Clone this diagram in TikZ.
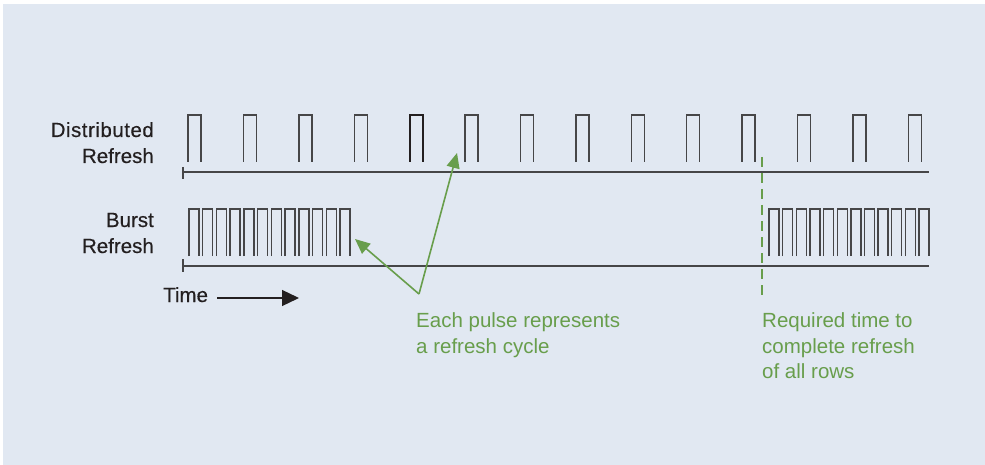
\documentclass[tikz,border=0pt]{standalone}
\usepackage{fontspec}
\setmainfont{Liberation Sans}
\newfontfamily\labelfont[FakeBold=0.35]{Liberation Sans}
\usetikzlibrary{arrows.meta}

\definecolor{panel}{RGB}{225,232,242}
\definecolor{ink}{RGB}{35,31,32}
\definecolor{trace}{RGB}{70,70,72}
\definecolor{note}{RGB}{104,158,76}

\tikzset{
  lbl/.style={inner sep=0pt, text=ink, font=\labelfont\fontsize{20.5}{26}\selectfont},
  notetext/.style={inner sep=0pt, text=note, font=\fontsize{20.5}{26}\selectfont, anchor=base west},
  pulse/.style={draw=trace, line width=1.4pt, line join=miter},
  axis/.style={draw=trace, line width=1.5pt},
  callout/.style={draw=note, line width=1.6pt, -{Triangle[length=15pt,width=13pt]}},
  marker/.style={draw=note, line width=1.4pt, dash pattern=on 10pt off 6pt},
}

\begin{document}
\begin{tikzpicture}[x=1pt,y=-1pt]
  % canvas and panel
  \useasboundingbox (0,0) rectangle (985,465);
  \fill[white] (0,0) rectangle (985,465);
  \fill[panel] (3,4) rectangle (985,465);

  % row labels
  \node[lbl, anchor=base east] (dlab1) at (154,137) {\addfontfeature{LetterSpace=2.5}Distributed};
  \node[lbl, anchor=base east] (dlab2) at (154,163) {Refresh};
  \node[lbl, anchor=base east] (blab1) at (154,227) {Burst};
  \node[lbl, anchor=base east] (blab2) at (154,253) {Refresh};

  % distributed refresh: time axis and evenly spaced pulses
  \draw[axis] (183,167) -- (183,179);
  \draw[axis] (183,172) -- (929,172);
  \foreach \k in {0,...,13} {
    \pgfmathsetmacro{\xa}{188+55.4*\k}
    \ifnum\k=4
      \draw[pulse, draw=ink, line width=1.9pt] (\xa,162) -- (\xa,115) -- ({\xa+13},115) -- ({\xa+13},162);
    \else
      \draw[pulse] (\xa,162) -- (\xa,115) -- ({\xa+13},115) -- ({\xa+13},162);
    \fi
  }

  % burst refresh: time axis and two bursts of back-to-back pulses
  \draw[axis] (183,259) -- (183,272);
  \draw[axis] (183,266) -- (929,266);
  \foreach \k in {0,...,11} {
    \pgfmathsetmacro{\xa}{189+13.73*\k}
    \draw[pulse] (\xa,256) -- (\xa,209) -- ({\xa+10},209) -- ({\xa+10},256);
    \pgfmathsetmacro{\xb}{769+13.64*\k}
    \draw[pulse] (\xb,256) -- (\xb,209) -- ({\xb+10},209) -- ({\xb+10},256);
  }

  % time direction
  \node[lbl, anchor=base west] (time) at (163,302) {Time};
  \coordinate (tstart) at (217,298);
  \coordinate (tend) at (299,298);
  \draw[draw=ink, line width=1.3pt, -{Triangle[length=17pt,width=16pt]}] (tstart) -- (tend);

  % callout: each pulse is one refresh cycle
  \coordinate (vertex) at (419,294);
  \coordinate (burstpulse) at (355,239);
  \coordinate (distpulse) at (457,153);
  \draw[callout] (vertex) -- (burstpulse);
  \draw[callout] (vertex) -- (distpulse);
  \node[notetext] (pulsenote1) at (416,327) {Each pulse represents};
  \node[notetext] (pulsenote2) at (416,353) {a refresh cycle};

  % marker: time needed to refresh every row
  \coordinate (mtop) at (762,157);
  \coordinate (mbot) at (762,301);
  \draw[marker] (mtop) -- (mbot);
  \node[notetext] (timenote1) at (762,327) {Required time to};
  \node[notetext] (timenote2) at (762,353) {complete refresh};
  \node[notetext] (timenote3) at (762,378) {of all rows};
\end{tikzpicture}
\end{document}
